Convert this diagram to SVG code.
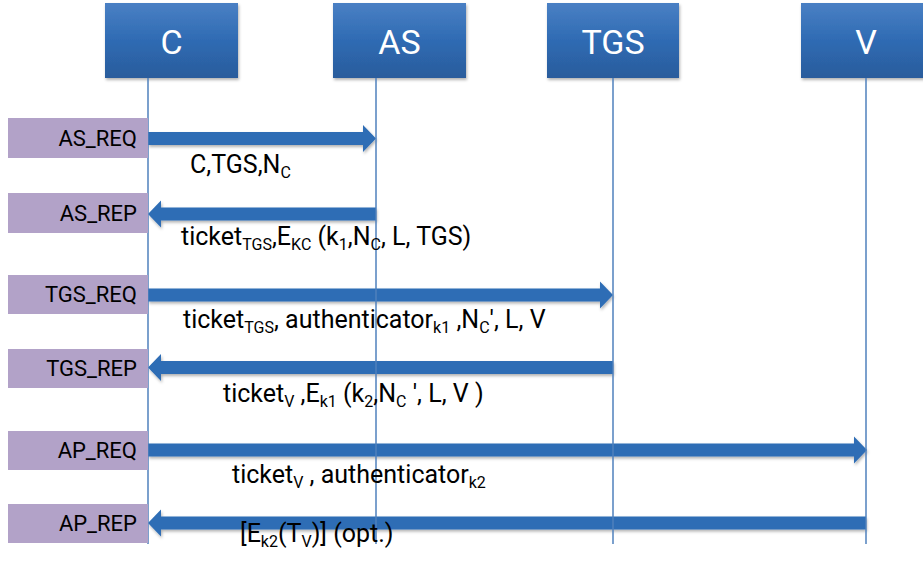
<svg xmlns="http://www.w3.org/2000/svg" width="923" height="564" viewBox="0 0 923 564">
<defs>
<linearGradient id="hdr" x1="0" y1="0" x2="0" y2="1">
<stop offset="0" stop-color="#4A80C4"/>
<stop offset="0.5" stop-color="#2F6BB3"/>
<stop offset="1" stop-color="#2A5C9C"/>
</linearGradient>
<filter id="sh" x="-5%" y="-30%" width="110%" height="170%">
<feDropShadow dx="1" dy="2" stdDeviation="1.5" flood-color="#000" flood-opacity="0.3"/>
</filter>
</defs>
<style>
.hdr{fill:url(#hdr);filter:url(#sh)}
.hdrt{fill:#fff;font-family:Roboto,"Liberation Sans",sans-serif;font-size:34px;text-anchor:middle}
.life{stroke:#4F81BD;stroke-width:1.5;fill:none}
.lab{fill:#B2A2C8}
.labt{fill:#000;font-family:Roboto,"Liberation Sans",sans-serif;font-size:22px;text-anchor:end}
.arr{fill:#2E6DB5;filter:url(#sh)}
.msg{fill:#000;font-family:Roboto,"Liberation Sans",sans-serif;font-size:25px}
.sub{font-size:16px}
</style>
<rect width="923" height="564" fill="#fff"/>
<g id="connectors">
<polygon class="arr" points="148,132 363,132 363,125 376,138.5 363,152 363,145 148,145"/>
<polygon class="arr" points="376,207.5 161,207.5 161,200.5 148,214 161,227.5 161,220.5 376,220.5"/>
<polygon class="arr" points="148,288.5 600,288.5 600,281.5 613,295 600,308.5 600,301.5 148,301.5"/>
<polygon class="arr" points="613,361 161,361 161,354 148,367.5 161,381 161,374 613,374"/>
<polygon class="arr" points="148,443.5 854,443.5 854,436.5 867,450 854,463.5 854,456.5 148,456.5"/>
<polygon class="arr" points="866,516.5 161,516.5 161,509.5 148,523 161,536.5 161,529.5 866,529.5"/>
</g>
<g id="node-C">
<rect class="hdr" x="105" y="3" width="133" height="75"/>
<text class="hdrt" x="171.5" y="54">C</text>
<line class="life" x1="148" y1="78" x2="148" y2="544"/>
</g>
<g id="node-AS">
<rect class="hdr" x="333" y="3" width="133" height="75"/>
<text class="hdrt" x="399.5" y="54">AS</text>
<line class="life" x1="376" y1="78" x2="376" y2="544"/>
</g>
<g id="node-TGS">
<rect class="hdr" x="547" y="3" width="132" height="75"/>
<text class="hdrt" x="613" y="54">TGS</text>
<line class="life" x1="613" y1="78" x2="613" y2="544"/>
</g>
<g id="node-V">
<rect class="hdr" x="801" y="3" width="133" height="75"/>
<text class="hdrt" x="866" y="54">V</text>
<line class="life" x1="866" y1="78" x2="866" y2="544"/>
</g>
<g id="label-AS_REQ">
<rect class="lab" x="8" y="118" width="140" height="40"/>
<text class="labt" x="137" y="146">AS_REQ</text>
</g>
<g id="label-AS_REP">
<rect class="lab" x="8" y="193" width="140" height="40"/>
<text class="labt" x="137" y="221">AS_REP</text>
</g>
<g id="label-TGS_REQ">
<rect class="lab" x="8" y="275" width="140" height="39"/>
<text class="labt" x="137" y="302">TGS_REQ</text>
</g>
<g id="label-TGS_REP">
<rect class="lab" x="8" y="349" width="140" height="39"/>
<text class="labt" x="137" y="376">TGS_REP</text>
</g>
<g id="label-AP_REQ">
<rect class="lab" x="8" y="431" width="140" height="39"/>
<text class="labt" x="137" y="458">AP_REQ</text>
</g>
<g id="label-AP_REP">
<rect class="lab" x="8" y="504" width="140" height="39"/>
<text class="labt" x="137" y="531">AP_REP</text>
</g>
<g id="messages">
<text class="msg" x="190" y="173">C,TGS,N<tspan class="sub" dy="5">C</tspan></text>
<text class="msg" x="181" y="245">ticket<tspan class="sub" dy="5">TGS</tspan><tspan dy="-5">,E</tspan><tspan class="sub" dy="5">KC</tspan><tspan dy="-5"> (k</tspan><tspan class="sub" dy="5">1</tspan><tspan dy="-5">,N</tspan><tspan class="sub" dy="5">C</tspan><tspan dy="-5">, L, TGS)</tspan></text>
<text class="msg" x="183" y="328">ticket<tspan class="sub" dy="5">TGS</tspan><tspan dy="-5">, authenticator</tspan><tspan class="sub" dy="5">k1</tspan><tspan dy="-5"> ,N</tspan><tspan class="sub" dy="5">C</tspan><tspan dy="-5">′, L, V</tspan></text>
<text class="msg" x="223" y="402">ticket<tspan class="sub" dy="5">V</tspan><tspan dy="-5"> ,E</tspan><tspan class="sub" dy="5">k1</tspan><tspan dy="-5"> (k</tspan><tspan class="sub" dy="5">2</tspan><tspan dy="-5">,N</tspan><tspan class="sub" dy="5">C</tspan><tspan dy="-5"> ′, L, V )</tspan></text>
<text class="msg" x="232" y="483">ticket<tspan class="sub" dy="5">V</tspan><tspan dy="-5"> , authenticator</tspan><tspan class="sub" dy="5">k2</tspan></text>
<text class="msg" x="240" y="542">[E<tspan class="sub" dy="5">k2</tspan><tspan dy="-5">(T</tspan><tspan class="sub" dy="5">V</tspan><tspan dy="-5">)] (opt.)</tspan></text>
</g>
</svg>
